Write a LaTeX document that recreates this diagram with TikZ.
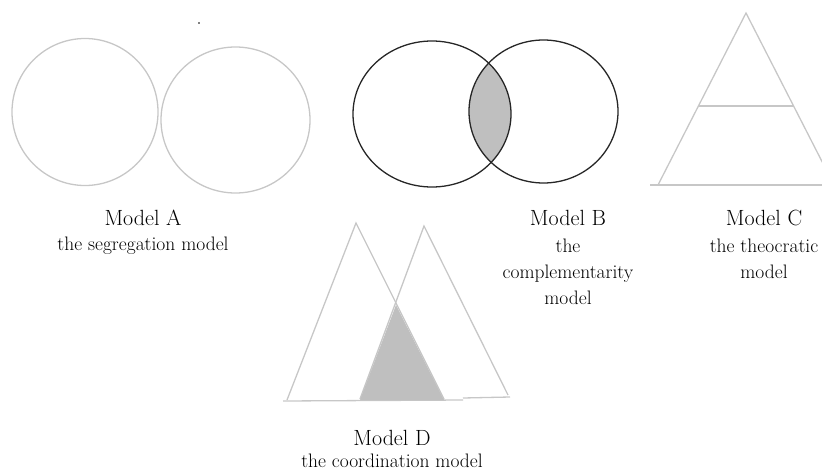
\documentclass[tikz,border=0pt]{standalone}
\begin{document}
\begin{tikzpicture}[x=1pt,y=-1pt,
  light/.style={draw=black!22,line width=1.3pt},
  dark/.style={draw=black!85,line width=1.3pt},
  shade/.style={fill=black!25},
  title/.style={font=\fontsize{22}{26}\selectfont,inner sep=0pt,anchor=base},
  sub/.style={font=\fontsize{19.5}{26}\selectfont,inner sep=0pt,anchor=base}]
\useasboundingbox (0,0) rectangle (822,471);
\clip (0,0) rectangle (822,471);
% Model A
\draw[light] (85,112) ellipse [x radius=73,y radius=73.5];
\draw[light] (235.5,120) ellipse [x radius=74.5,y radius=73];
\fill[black] (199,23) circle [radius=0.8];
% Model B
\begin{scope}
  \clip (432,114) ellipse [x radius=79,y radius=73];
  \fill[shade] (543.5,111.5) ellipse [x radius=74.5,y radius=71.5];
\end{scope}
\draw[dark] (432,114) ellipse [x radius=79,y radius=73];
\draw[dark] (543.5,111.5) ellipse [x radius=74.5,y radius=71.5];
% Model C
\draw[light] (658,185) -- (746,13) -- (834,185);
\draw[light] (650,185) -- (822,185);
\draw[light] (699,106) -- (793,106);
% Model D
\draw[light] (287,400) -- (356,223) -- (444,399);
\draw[light] (360,399) -- (424,226) -- (508,395);
\draw[light] (283,401) -- (463,400);
\draw[light] (463,398) -- (510,397);
\fill[shade] (396,305) -- (360,400) -- (444,400) -- cycle;
% Labels
\node[title] (ta) at (143,225) {Model A};
\node[sub] (sa) at (143,250) {the segregation model};
\node[title] (tb) at (568,225) {Model B};
\node[sub] (sb1) at (568,252) {the};
\node[sub] (sb2) at (568,278) {complementarity};
\node[sub] (sb3) at (568,304) {model};
\node[title] (tc) at (764,225) {Model C};
\node[sub] (sc1) at (764,252) {the theocratic};
\node[sub] (sc2) at (764,278) {model};
\node[title] (td) at (392,445) {Model D};
\node[sub] (sd) at (392,467) {the coordination model};
\end{tikzpicture}
\end{document}
